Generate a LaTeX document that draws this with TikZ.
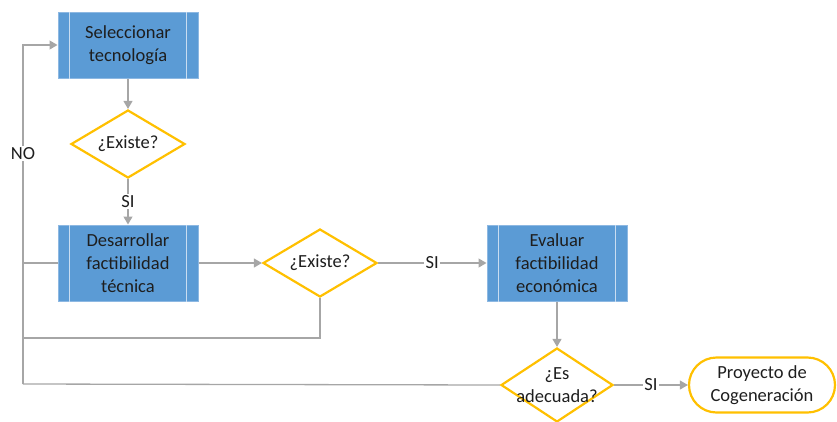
\documentclass[tikz,border=0pt]{standalone}
\usepackage{fontspec}
\setmainfont{Carlito}
\usetikzlibrary{shapes.geometric,shapes.misc,arrows.meta}
\definecolor{boxblue}{HTML}{5B9BD5}
\definecolor{boxedge}{HTML}{8DB8E2}
\definecolor{innerln}{HTML}{C9DDF1}
\definecolor{gold}{HTML}{FFC000}
\definecolor{lnk}{HTML}{A6A6A6}
\definecolor{txt}{HTML}{1E1E1E}
\tikzset{
  x=1pt, y=-1pt,
  base/.style={font=\fontsize{18.5}{23}\selectfont, text=txt, align=center},
  proc/.style={base, draw=boxedge, line width=1pt, fill=boxblue, minimum width=140pt, minimum height=66pt, inner sep=0pt},
  dec/.style={diamond, draw=gold, line width=2.2pt, fill=white, inner sep=0pt, minimum width=114pt, minimum height=68pt,
              label={[base, inner sep=0pt]center:#1}},
  term/.style={base, rounded rectangle, draw=gold, line width=2.2pt, fill=white, minimum width=146pt, minimum height=55pt, inner sep=0pt},
  link/.style={draw=lnk, line width=1.3pt},
  arr/.style={link, -{Triangle[width=9pt,length=8pt]}},
  lab/.style={base, fill=white, inner sep=1.5pt},
}
\newcommand{\innerlines}[1]{%
  \draw[innerln, line width=1pt] ([xshift=12pt]#1.north west) -- ([xshift=12pt]#1.south west);
  \draw[innerln, line width=1pt] ([xshift=-12pt]#1.north east) -- ([xshift=-12pt]#1.south east);}
\begin{document}
\begin{tikzpicture}
\useasboundingbox (0,0) rectangle (837,421);
% nodes
\node[proc, minimum height=66pt] (b1) at (128,45) {Seleccionar\\tecnología};
\node[dec={¿Existe?}] (d1) at (128,144) {};
\node[proc, minimum height=76pt] (b2) at (128,263) {Desarrollar\\factibilidad\\técnica};
\node[dec={¿Existe?}] (d2) at (320,263) {};
\node[proc, minimum height=76pt] (b3) at (557,263) {Evaluar\\factibilidad\\económica};
\node[dec={{¿Es\\adecuada?}}, minimum width=112pt, minimum height=74pt] (d3) at (557,385) {};
\node[term] (t) at (762,385) {Proyecto de\\Cogeneración};
\innerlines{b1}
\innerlines{b2}
\innerlines{b3}
% coordinates on the left return line
\coordinate (lt) at (23,45);
\coordinate (lm) at (23,263);
\coordinate (ll) at (23,338);
\coordinate (lb) at (23,384);
% connectors
\draw[arr] (b1.south) -- (d1.north);
\draw[arr] (d1.south) -- node[lab] {SI} (b2.north);
\draw[arr] (b2.east) -- (d2.west);
\draw[arr] (d2.east) -- node[lab] {SI} (b3.west);
\draw[arr] (b3.south) -- (d3.north);
\draw[arr] (d3.east) -- node[lab] {SI} (t.west);
\draw[link] (d3.west) -- (lb);
\draw[arr] (lb) -- node[lab, pos=0.68] {NO} (lt) -- (b1.west);
\draw[link] (b2.west) -- (lm);
\draw[link] (d2.south) |- (ll);
\end{tikzpicture}
\end{document}
